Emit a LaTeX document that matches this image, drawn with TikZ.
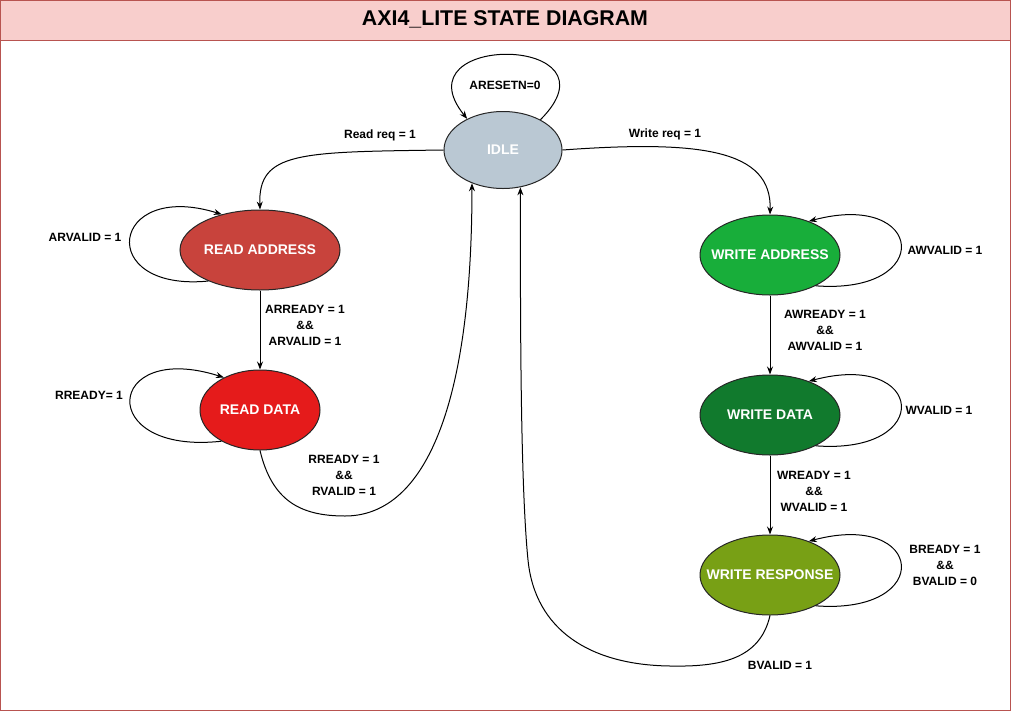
\documentclass[tikz,border=0pt]{standalone}
\usepackage{fontspec}
\setmainfont{Liberation Sans}
\usepackage{tikz}
\usetikzlibrary{arrows.meta,shapes.geometric}
\definecolor{titlefill}{HTML}{F8CECC}
\definecolor{framered}{HTML}{B85450}
\definecolor{idlefill}{HTML}{BAC8D3}
\definecolor{rafill}{HTML}{C8433C}
\definecolor{rdfill}{HTML}{E51B1B}
\definecolor{wafill}{HTML}{18AE3A}
\definecolor{wdfill}{HTML}{117A2D}
\definecolor{wrfill}{HTML}{78A015}
\newcommand{\statetext}[1]{\makebox[0pt]{#1}}

\begin{document}
\begin{tikzpicture}[x=0.75pt,y=-0.75pt,
  statenode/.style={ellipse,draw=black!85,line width=0.75pt,inner sep=0pt,text=white,
    font=\fontsize{10.5}{12}\selectfont\bfseries},
  edgelabel/.style={align=center,inner sep=1pt,font=\fontsize{9}{12}\selectfont\bfseries},
  trans/.style={draw,line width=0.75pt,-{Stealth[length=6pt,width=4.5pt]}}]
\useasboundingbox (0,0) rectangle (1011,711);
\draw[framered,line width=0.75pt] (0.5,0.5) rectangle (1010.5,710.5);
\draw[framered,fill=titlefill,line width=0.75pt] (0.5,0.5) rectangle (1010.5,40.5);
\node[font=\fontsize{16}{19}\selectfont\bfseries] (title) at (505,19) {AXI4\_LITE STATE DIAGRAM};

% states
\node[statenode,fill=idlefill,minimum width=88.5pt,minimum height=57.75pt] (idle) at (503,150) {\statetext{IDLE}};
\node[statenode,fill=rafill,minimum width=120pt,minimum height=60pt] (ra) at (260,250) {\statetext{READ ADDRESS}};
\node[statenode,fill=rdfill,minimum width=90pt,minimum height=60pt] (rd) at (260,410) {\statetext{READ DATA}};
\node[statenode,fill=wafill,minimum width=105pt,minimum height=60pt] (wa) at (770,255) {\statetext{WRITE ADDRESS}};
\node[statenode,fill=wdfill,minimum width=105pt,minimum height=60pt] (wd) at (770,415) {\statetext{WRITE DATA}};
\node[statenode,fill=wrfill,minimum width=105pt,minimum height=60pt] (wr) at (770,575) {\statetext{WRITE RESPONSE}};

\coordinate (rdbend) at (345,516);
\coordinate (bbend1) at (670,666);
\coordinate (bbend2) at (528,560);

% transitions
\draw[trans] (idle.39) .. controls +(85,-85) and +(-70,-87) .. (idle.139);
\draw[trans] (idle.west) .. controls +(-144,2) and +(-2,-58) .. (ra.north);
\draw[trans] (idle.east) .. controls +(138,-10) and +(2,-65) .. (wa.north);
\draw[trans] (ra.211) .. controls +(-114,11) and +(-112,-35) .. (ra.137);
\draw[trans] (rd.219.5) .. controls +(-127,14) and +(-119,-38) .. (rd.138);
\draw[trans] (ra.south) -- (rd.north);
\draw[trans] (rd.south) .. controls +(12,50) and +(-45,0) .. (rdbend)
  .. controls +(75,0) and +(0,235) .. (idle.227);
\draw[trans] (wa.326) .. controls +(120,9) and +(116,-31) .. (wa.41);
\draw[trans] (wd.326) .. controls +(120,9) and +(116,-31) .. (wd.41);
\draw[trans] (wr.326) .. controls +(120,9) and +(116,-31) .. (wr.41);
\draw[trans] (wa.south) -- (wd.north);
\draw[trans] (wd.south) -- (wr.north);
\draw[trans] (wr.south) .. controls +(-10,44) and +(50,1) .. (bbend1)
  .. controls +(-80,-1) and +(7,70) .. (bbend2)
  .. controls +(-8,-80) and +(0,113) .. (idle.295);

% labels
\node[edgelabel] (l-reset) at (505,85) {ARESETN=0};
\node[edgelabel] (l-readreq) at (380,135) {Read req = 1};
\node[edgelabel] (l-writereq) at (665,134) {Write req = 1};
\node[edgelabel] (l-arvalid) at (85,237) {ARVALID = 1};
\node[edgelabel] (l-arready) at (305,325) {ARREADY = 1\\\&\&\\ARVALID = 1};
\node[edgelabel] (l-rready) at (89,395) {RREADY= 1};
\node[edgelabel] (l-rvalid) at (344,475) {RREADY = 1\\\&\&\\RVALID = 1};
\node[edgelabel] (l-awvalid) at (945,250) {AWVALID = 1};
\node[edgelabel] (l-awready) at (825,330) {AWREADY = 1\\\&\&\\AWVALID = 1};
\node[edgelabel] (l-wvalid) at (939,410) {WVALID = 1};
\node[edgelabel] (l-wready) at (814,491) {WREADY = 1\\\&\&\\WVALID = 1};
\node[edgelabel] (l-bready) at (945,565) {BREADY = 1\\\&\&\\BVALID = 0};
\node[edgelabel] (l-bvalid) at (780,665) {BVALID = 1};
\end{tikzpicture}
\end{document}
